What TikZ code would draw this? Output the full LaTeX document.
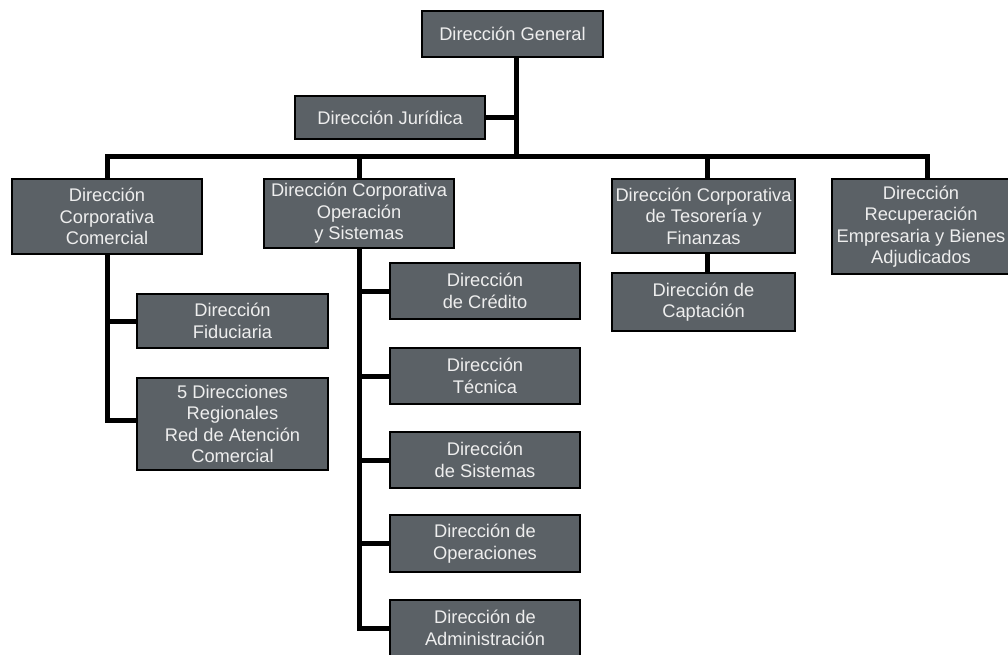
\documentclass[tikz,border=0pt]{standalone}
\usepackage{fontspec}
\setmainfont{Liberation Sans}
\definecolor{boxfill}{RGB}{91,97,102}
\definecolor{boxtext}{RGB}{238,238,238}
\pgfdeclarelayer{bg}
\pgfsetlayers{bg,main}
\begin{document}
\begin{tikzpicture}[x=1pt,y=-1pt,
  orgbox/.style={draw=black, line width=1.3pt, fill=boxfill, text=boxtext,
    align=center, inner sep=0pt, font=\fontsize{18.3}{21.5}\selectfont},
  conn/.style={draw=black, line width=5pt, line join=miter}]
\useasboundingbox (0,0) rectangle (1008,654);
% coordinates of the connector spines
\coordinate (t) at (516,156);
\coordinate (cL) at (107,156);
\coordinate (oL) at (359.5,156);
\coordinate (tL) at (707,156);
\coordinate (rL) at (927,156);
% boxes
\node[orgbox, minimum width=181, minimum height=46] (gen) at (512.5,34) {Dirección General};
\node[orgbox, minimum width=190, minimum height=43] (jur) at (390,117.5) {Dirección Jurídica};
\node[orgbox, minimum width=190, minimum height=75] (com) at (107,216.5) {Dirección\\Corporativa\\Comercial};
\node[orgbox, minimum width=190, minimum height=69] (ope) at (359,213.5) {Dirección Corporativa\\Operación\\y Sistemas};
\node[orgbox, minimum width=183, minimum height=74] (tes) at (703.5,216) {Dirección Corporativa\\de Tesorería y\\Finanzas};
\node[orgbox, minimum width=178, minimum height=95] (rec) at (921,226.5) {Dirección\\Recuperación\\Empresaria y Bienes\\Adjudicados};
\node[orgbox, minimum width=183, minimum height=58] (cap) at (703.5,302) {Dirección de\\Captación};
\node[orgbox, minimum width=191, minimum height=54] (fid) at (232.5,321) {Dirección\\Fiduciaria};
\node[orgbox, minimum width=191, minimum height=92] (dir5) at (232.5,424) {5 Direcciones\\Regionales\\Red de Atención\\Comercial};
\node[orgbox, minimum width=190, minimum height=56] (cre) at (485,291) {Dirección\\de Crédito};
\node[orgbox, minimum width=190, minimum height=56] (tec) at (485,376) {Dirección\\Técnica};
\node[orgbox, minimum width=190, minimum height=56] (sis) at (485,460) {Dirección\\de Sistemas};
\node[orgbox, minimum width=190, minimum height=57] (opr) at (485,543.5) {Dirección de\\Operaciones};
\node[orgbox, minimum width=190, minimum height=56] (adm) at (485,628) {Dirección de\\Administración};
% connectors behind boxes
\begin{pgfonlayer}{bg}
\draw[conn] (gen.south -| t) -- (t);
\draw[conn] (jur.east) -- (jur.east -| t);
\draw[conn] (cL |- com.north) -- (cL) -- (rL) -- (rL |- rec.north);
\draw[conn] (com.south -| cL) -- ([yshift=4pt]dir5.west -| cL) -- ([yshift=4pt]dir5.west);
\draw[conn] (fid.west) -- (fid.west -| cL);
\draw[conn] (oL) -- (oL |- ope.north);
\draw[conn] (ope.south -| oL) -- (adm.west -| oL) -- (adm.west);
\draw[conn] (cre.west) -- (cre.west -| oL);
\draw[conn] (tec.west) -- (tec.west -| oL);
\draw[conn] (sis.west) -- (sis.west -| oL);
\draw[conn] (opr.west) -- (opr.west -| oL);
\draw[conn] (tL) -- (tL |- tes.north);
\draw[conn] (tes.south -| tL) -- (cap.north -| tL);
\end{pgfonlayer}
\end{tikzpicture}
\end{document}
